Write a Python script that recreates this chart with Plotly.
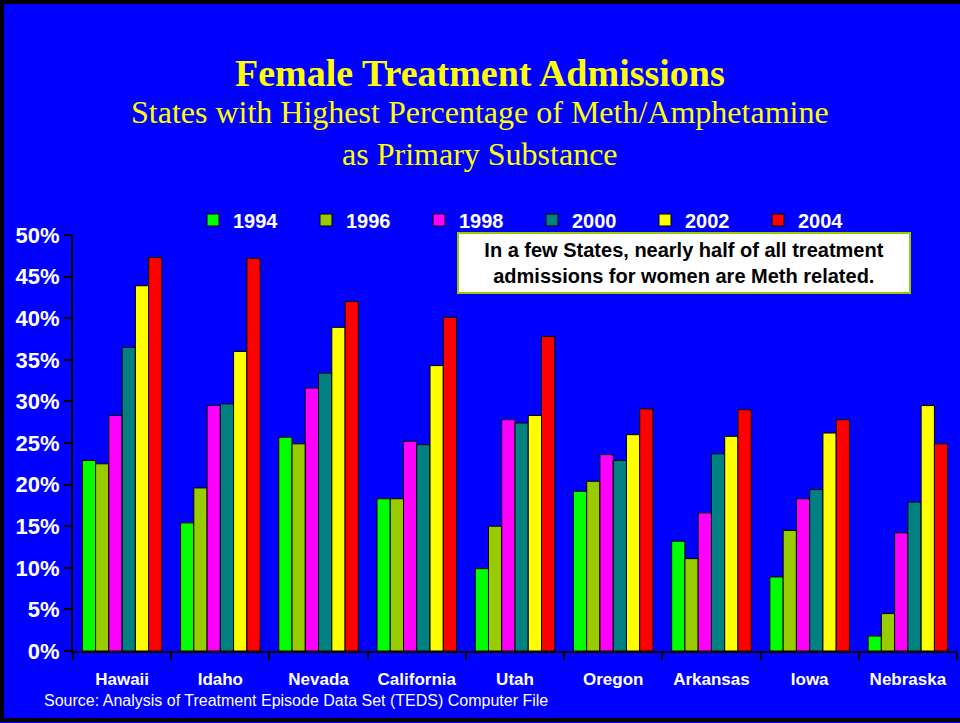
import plotly.graph_objects as go

# data (percent of female admissions)
states = ['Hawaii', 'Idaho', 'Nevada', 'California', 'Utah', 'Oregon', 'Arkansas', 'Iowa', 'Nebraska']
years = ['1994', '1996', '1998', '2000', '2002', '2004']
v1994 = [22.9, 15.4, 25.7, 18.3, 9.9, 19.2, 13.2, 8.9, 1.8]
v1996 = [22.5, 19.6, 24.9, 18.3, 15.0, 20.4, 11.1, 14.5, 4.5]
v1998 = [28.3, 29.5, 31.6, 25.2, 27.8, 23.6, 16.6, 18.3, 14.2]
v2000 = [36.5, 29.7, 33.4, 24.8, 27.4, 22.9, 23.7, 19.4, 17.9]
v2002 = [43.9, 36.0, 38.9, 34.3, 28.3, 26.0, 25.8, 26.2, 29.5]
v2004 = [47.3, 47.2, 42.0, 40.1, 37.8, 29.1, 29.0, 27.8, 24.9]
series = [v1994, v1996, v1998, v2000, v2002, v2004]
colors = ['#00FF00', '#99CC00', '#FF00FF', '#008080', '#FFFF00', '#FF0000']

W, H = 960, 723
L, R, T, B = 73, 3, 235, 72
pw, ph = W - L - R, H - T - B


# pixel -> paper helpers
def px(x):
    return (x - L) / pw


def py(y):
    return (H - B - y) / ph


fig = go.Figure()
for yr, vals, c in zip(years, series, colors):
    fig.add_trace(go.Bar(
        x=states, y=vals, name=yr,
        marker=dict(color=c, line=dict(color='black', width=1)),
    ))

fig.update_layout(
    width=W, height=H,
    margin=dict(l=L, r=R, t=T, b=B),
    paper_bgcolor='#0000FF',
    plot_bgcolor='#0000FF',
    barmode='group',
    bargap=0.19,
    bargroupgap=0,
    showlegend=True,
    legend=dict(
        orientation='h',
        x=px(193), y=py(220), xanchor='left', yanchor='middle',
        bgcolor='rgba(0,0,0,0)',
        font=dict(family='Arial, Liberation Sans', size=20, color='white', weight='bold'),
        entrywidth=68, entrywidthmode='pixels',
        traceorder='normal',
    ),
    xaxis=dict(
        showline=True, linecolor='black', linewidth=2,
        ticks='outside', tickson='boundaries', ticklen=7, tickcolor='black', tickwidth=1.5,
        tickfont=dict(family='Arial, Liberation Sans', size=17, color='white', weight='bold'),
        ticklabelstandoff=12,
        showgrid=False,
    ),
    yaxis=dict(
        range=[0, 50], dtick=5, ticksuffix='%',
        showline=True, linecolor='black', linewidth=2,
        ticks='outside', ticklen=7, tickcolor='black', tickwidth=1.5,
        tickfont=dict(family='Arial, Liberation Sans', size=22, color='white', weight='bold'),
        showgrid=False, zeroline=False,
    ),
    shapes=[dict(
        type='rect', xref='paper', yref='paper',
        x0=px(2), x1=px(964), y0=py(720), y1=py(2),
        line=dict(color='black', width=4),
    )],
    annotations=[
        dict(text='Female Treatment Admissions', x=px(480), y=py(73),
             xref='paper', yref='paper', showarrow=False, xanchor='center', yanchor='middle',
             font=dict(family='Times New Roman, Liberation Serif', size=38, color='#FFFF00', weight='bold')),
        dict(text='States with Highest Percentage of Meth/Amphetamine<br>as Primary Substance',
             x=px(480), y=py(133), xref='paper', yref='paper', showarrow=False,
             xanchor='center', yanchor='middle',
             font=dict(family='Times New Roman, Liberation Serif', size=32, color='#FFFF00')),
        dict(text='In a few States, nearly half of all treatment<br>admissions for women are Meth related.',
             x=px(684), y=py(263), xref='paper', yref='paper', showarrow=False,
             xanchor='center', yanchor='middle',
             width=448, height=56, bgcolor='white', bordercolor='#99CC00', borderwidth=2,
             font=dict(family='Arial, Liberation Sans', size=20, color='black', weight='bold')),
        dict(text='Source: Analysis of Treatment Episode Data Set (TEDS) Computer File',
             x=px(42), y=py(700), xref='paper', yref='paper', showarrow=False,
             xanchor='left', yanchor='middle',
             font=dict(family='Arial, Liberation Sans', size=16, color='white')),
    ],
)

fig.write_html('out.html', config={'displayModeBar': False},
               post_script="document.body.style.margin='0';")
